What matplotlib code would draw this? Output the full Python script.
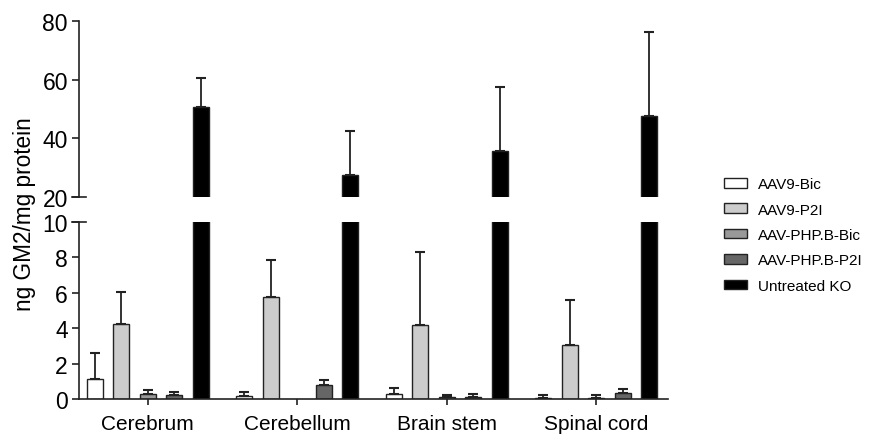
import numpy as np
import matplotlib
matplotlib.use('Agg')
import matplotlib.pyplot as plt

plt.rcParams['font.family'] = ['Liberation Sans', 'DejaVu Sans']

tissues = ['Cerebrum', 'Cerebellum', 'Brain stem', 'Spinal cord']
groups = ['AAV9-Bic', 'AAV9-P2I', 'AAV-PHP.B-Bic', 'AAV-PHP.B-P2I', 'Untreated KO']
colors = ['#ffffff', '#cccccc', '#999999', '#666666', '#000000']

# mean values per group, one entry per tissue
aav9_bic = [1.15, 0.18, 0.3, 0.05]
aav9_p2i = [4.25, 5.75, 4.2, 3.05]
php_bic = [0.3, np.nan, 0.1, 0.08]
php_p2i = [0.22, 0.8, 0.12, 0.32]
untreated = [50.8, 27.5, 35.8, 47.7]

# upper error (SD) per group
aav9_bic_err = [1.45, 0.24, 0.3, 0.15]
aav9_p2i_err = [1.8, 2.1, 4.1, 2.55]
php_bic_err = [0.2, np.nan, 0.15, 0.17]
php_p2i_err = [0.16, 0.25, 0.15, 0.23]
untreated_err = [9.9, 15.0, 21.8, 28.6]

means = [aav9_bic, aav9_p2i, php_bic, php_p2i, untreated]
errs = [aav9_bic_err, aav9_p2i_err, php_bic_err, php_p2i_err, untreated_err]

fig = plt.figure(figsize=(8.7, 4.35), dpi=100)
ax_top = fig.add_axes([79/870, (435-198)/435, (668-79)/870, 176/435])
ax_bot = fig.add_axes([79/870, (435-400)/435, (668-79)/870, 177/435])

x = np.arange(len(tissues))
step = 0.177
width = 0.107

for ax in (ax_top, ax_bot):
    for i in range(len(groups)):
        pos = x + (i - 2) * step
        ax.bar(pos, means[i], width, color=colors[i], edgecolor='#222222',
               linewidth=1.0, label=groups[i])
        ax.errorbar(pos, means[i], yerr=[np.zeros(len(tissues)), errs[i]],
                    fmt='none', ecolor='#222222', elinewidth=1.3,
                    capsize=3.6, capthick=1.5)
    ax.set_xlim(-0.46, 3.48)
    for s in ('top', 'right'):
        ax.spines[s].set_visible(False)
    ax.spines['left'].set_color('#222222')
    ax.spines['left'].set_linewidth(1.2)
    ax.tick_params(axis='y', labelsize=16.5, length=5, width=1.2,
                   color='#222222', pad=3)

ax_top.set_ylim(20, 80)
ax_top.set_yticks([20, 40, 60, 80])
ax_top.spines['bottom'].set_visible(False)
ax_top.set_xticks([])

ax_bot.set_ylim(0, 10)
ax_bot.set_yticks([0, 2, 4, 6, 8, 10])
ax_bot.spines['bottom'].set_color('#222222')
ax_bot.spines['bottom'].set_linewidth(1.2)
ax_bot.set_xticks(x)
ax_bot.set_xticklabels(tissues, fontsize=15)
ax_bot.tick_params(axis='x', length=4, width=1.2, color='#222222', pad=7)

# break marks
ax_top.plot([-0.012, 0.012], [0, 0], transform=ax_top.transAxes,
            color='#222222', lw=1.2, clip_on=False)
ax_bot.plot([-0.012, 0.012], [1, 1], transform=ax_bot.transAxes,
            color='#222222', lw=1.2, clip_on=False)

fig.text(25/870, 0.508, 'ng GM2/mg protein', rotation=90, fontsize=16.3,
         ha='center', va='center')

handles, labels = ax_bot.get_legend_handles_labels()
fig.legend(handles[:5], labels[:5], loc='center left',
           bbox_to_anchor=(724/870, (435-236)/435), frameon=False,
           fontsize=11, handlelength=1.5, handleheight=0.6,
           handletextpad=0.75, labelspacing=0.75, borderpad=0, borderaxespad=0)

fig.savefig('out.png', dpi=100)
